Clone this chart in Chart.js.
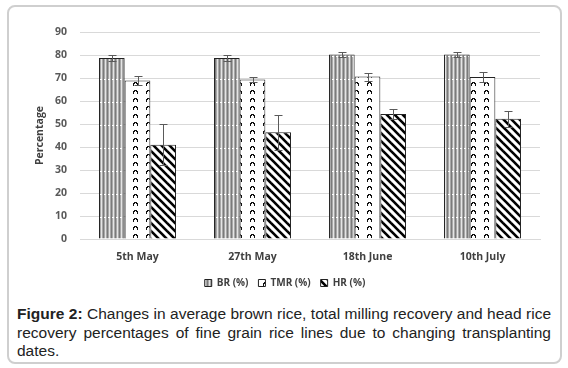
<!DOCTYPE html>
<html lang="en">
<head>
<meta charset="UTF-8">
<script src="https://cdn.jsdelivr.net/npm/chart.js"></script>
<title>Figure 2</title>
<style>
  body { margin: 0; background: #fff; width: 568px; height: 368px; position: relative; overflow: hidden; }
  #moldura { position: absolute; left: 7px; top: 5px; width: 551px; height: 355px; border: 2px solid #cfcfcf; border-radius: 8px; }
  #grafico { position: absolute; left: 0; top: 0; }
  #legenda { position: absolute; left: 17px; top: 305px; width: 534px; font-family: "Liberation Sans", Arial, sans-serif;
             font-size: 15.5px; line-height: 18.5px; color: #222; text-align: justify; }
</style>
</head>
<body>
<div id="moldura"></div>
<canvas id="grafico" width="568" height="300"></canvas>
<div id="legenda"><b>Figure 2:</b> Changes in average brown rice, total milling recovery and head rice recovery percentages of fine grain rice lines due to changing transplanting dates.</div>

<script>
    // dados
    const datas = ['5th May', '27th May', '18th June', '10th July'];
    const br = [78.7, 78.7, 80.2, 80.2];
    const tmr = [68.9, 69.3, 70.6, 70.4];
    const hr = [41.0, 46.4, 54.3, 52.3];
    const brErro = [1.2, 1.2, 0.9, 1.2];
    const tmrErro = [1.8, 1.2, 1.7, 2.2];
    const hrErro = [8.8, 7.7, 2.3, 3.5];
    const ticksY = [0, 10, 20, 30, 40, 50, 60, 70, 80, 90];

    function criarTile(w, h, desenhar) {
        const c = document.createElement('canvas');
        c.width = w; c.height = h;
        const g = c.getContext('2d');
        desenhar(g, w, h);
        return document.getElementById('grafico').getContext('2d').createPattern(c, 'repeat');
    }

    // listras verticais cinzas com tracejado branco
    const padraoBR = criarTile(4, 23, function (g, w, h) {
        g.fillStyle = '#a8a8a8'; g.fillRect(0, 0, w, h);
        g.fillStyle = '#e4e4e4'; g.fillRect(1, 0, 1, h);
        g.fillStyle = '#7a7a7a'; g.fillRect(3, 0, 1, h);
        g.fillStyle = '#ffffff'; g.fillRect(0, 10, 2, 1);
    });

    // ganchinhos pretos
    const padraoTMR = criarTile(13, 8, function (g, w, h) {
        g.fillStyle = '#fff'; g.fillRect(0, 0, w, h);
        g.fillStyle = '#111';
        g.fillRect(4, 2, 3, 1);
        g.fillRect(3, 3, 1, 3);
        g.fillRect(6, 3, 2, 1);
        g.fillRect(7, 4, 1, 2);
        g.fillRect(4, 3, 1, 1);
    });

    // diagonais grossas
    const padraoHR = criarTile(8, 8, function (g, w, h) {
        g.fillStyle = '#fff'; g.fillRect(0, 0, w, h);
        g.strokeStyle = '#000'; g.lineWidth = 2.6;
        for (let k = -1; k <= 1; k++) {
            g.beginPath(); g.moveTo(k * 8 - 1, -1); g.lineTo(k * 8 + 9, 9); g.stroke();
        }
    });

    const erros = [brErro, tmrErro, hrErro];

    const barrasErro = {
        id: 'barrasErro',
        afterDatasetsDraw(chart) {
            const ctx = chart.ctx;
            const y = chart.scales.y;
            ctx.save();
            ctx.strokeStyle = '#5a5a5a';
            ctx.lineWidth = 1;
            chart.data.datasets.forEach(function (ds, i) {
                const meta = chart.getDatasetMeta(i);
                meta.data.forEach(function (bar, j) {
                    const x = Math.round(bar.x) + 0.5;
                    const topo = Math.round(y.getPixelForValue(ds.data[j] + erros[i][j])) + 0.5;
                    const base = Math.round(y.getPixelForValue(ds.data[j] - erros[i][j])) + 0.5;
                    ctx.beginPath();
                    ctx.moveTo(x, topo); ctx.lineTo(x, base);
                    ctx.moveTo(x - 4, topo); ctx.lineTo(x + 4, topo);
                    ctx.moveTo(x - 4, base); ctx.lineTo(x + 4, base);
                    ctx.stroke();
                });
            });
            ctx.restore();
        }
    };

    const fonteEixo = { family: '"Open Sans", "DejaVu Sans", sans-serif', size: 10.5, weight: 'bold' };

    const dados = {
        labels: datas,
        datasets: [
            { label: 'BR (%)', data: br, backgroundColor: padraoBR, borderColor: '#222', borderWidth: 1 },
            { label: 'TMR (%)', data: tmr, backgroundColor: padraoTMR, borderColor: '#222', borderWidth: 1 },
            { label: 'HR (%)', data: hr, backgroundColor: padraoHR, borderColor: '#222', borderWidth: 1 }
        ]
    };

    const config = {
        type: 'bar',
        data: dados,
        plugins: [barrasErro],
        options: {
            responsive: false,
            animation: false,
            categoryPercentage: 0.67,
            barPercentage: 1,
            layout: { padding: { left: 30, right: 28, top: 32, bottom: 2 } },
            plugins: {
                tooltip: { enabled: false },
                legend: {
                    position: 'bottom',
                    labels: {
                        font: { family: '"Open Sans", "DejaVu Sans", sans-serif', size: 10, weight: 'bold' },
                        color: '#404040',
                        boxWidth: 7,
                        boxHeight: 7,
                        padding: 10
                    }
                }
            },
            scales: {
                x: {
                    grid: { display: false, drawTicks: false },
                    border: { color: '#d9d9d9' },
                    ticks: { font: fonteEixo, color: '#404040', padding: 12 },
                    afterFit: function (s) { s.height = 29; }
                },
                y: {
                    min: 0,
                    max: 90,
                    afterBuildTicks: function (s) { s.ticks = ticksY.map(v => ({ value: v })); },
                    grid: { color: '#d9d9d9', drawTicks: false },
                    border: { display: false },
                    ticks: { font: fonteEixo, color: '#595959', padding: 13 },
                    title: { display: true, text: 'Percentage', font: fonteEixo, color: '#404040', padding: { top: 4, bottom: 0 } },
                    afterFit: function (s) { s.width = 50; }
                }
            }
        }
    };

    new Chart(document.getElementById('grafico'), config);
</script>
</body>
</html>
